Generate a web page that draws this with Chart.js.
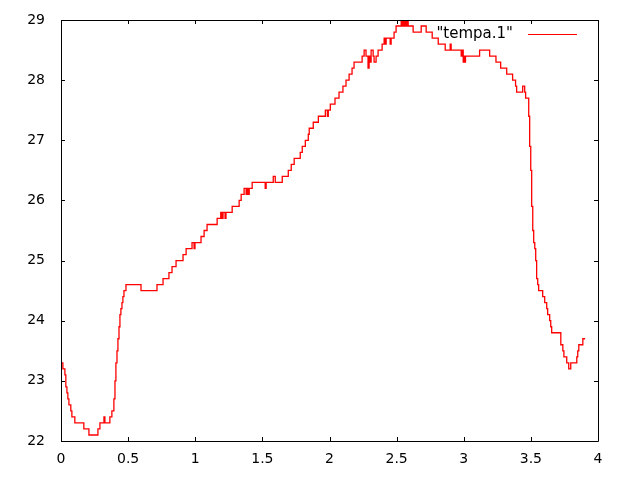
<!DOCTYPE html>
<html>
<head>
<meta charset="utf-8">
<script src="https://cdn.jsdelivr.net/npm/chart.js@4/dist/chart.umd.min.js"></script>
<style>
  html, body { margin: 0; padding: 0; background: #fff; }
  #wrap { width: 640px; height: 480px; }
</style>
</head>
<body>
<div id="wrap"><canvas id="chart" width="640" height="480"></canvas></div>
<script>
// time of each step change and the temperature reached there
const times = [
  0.000, 0.014, 0.029, 0.036, 0.044, 0.051, 0.059, 0.073, 0.081, 0.103,
  0.170, 0.208, 0.275, 0.290, 0.320, 0.327, 0.364, 0.379, 0.394, 0.402,
  0.409, 0.417, 0.424, 0.432, 0.439, 0.446, 0.454, 0.461, 0.469, 0.484,
  0.596, 0.715, 0.760, 0.804, 0.827, 0.857, 0.909, 0.932, 0.976, 0.991,
  0.998, 1.043, 1.066, 1.088, 1.163, 1.190, 1.194, 1.198, 1.202, 1.207,
  1.222, 1.229, 1.275, 1.327, 1.342, 1.364, 1.379, 1.386, 1.394, 1.402,
  1.424, 1.521, 1.528, 1.581, 1.596, 1.648, 1.693, 1.715, 1.737, 1.782,
  1.797, 1.820, 1.842, 1.849, 1.879, 1.917, 1.969, 1.984, 1.991, 2.006,
  2.041, 2.071, 2.100, 2.123, 2.146, 2.168, 2.183, 2.243, 2.258, 2.272,
  2.287, 2.295, 2.303, 2.310, 2.325, 2.332, 2.347, 2.362, 2.392, 2.407,
  2.414, 2.422, 2.452, 2.459, 2.481, 2.496, 2.534, 2.541, 2.549, 2.556,
  2.563, 2.571, 2.578, 2.586, 2.623, 2.683, 2.720, 2.765, 2.810, 2.862,
  2.899, 2.906, 2.981, 2.989, 2.996, 3.003, 3.006, 3.013, 3.118, 3.193,
  3.240, 3.275, 3.320, 3.364, 3.386, 3.394, 3.439, 3.454, 3.461, 3.484,
  3.491, 3.499, 3.506, 3.514, 3.521, 3.529, 3.536, 3.543, 3.551, 3.558,
  3.588, 3.603, 3.618, 3.625, 3.640, 3.648, 3.655, 3.723, 3.738, 3.746,
  3.767, 3.782, 3.797, 3.842, 3.849, 3.857, 3.887, 3.904
];
const temps = [
  23.3, 23.2, 23.1, 22.9, 22.8, 22.7, 22.6, 22.5, 22.4, 22.3,
  22.2, 22.1, 22.2, 22.3, 22.4, 22.3, 22.4, 22.5, 22.7, 23.0,
  23.3, 23.5, 23.7, 23.9, 24.1, 24.2, 24.3, 24.4, 24.5, 24.6,
  24.5, 24.6, 24.7, 24.8, 24.9, 25.0, 25.1, 25.2, 25.3, 25.2,
  25.3, 25.4, 25.5, 25.6, 25.7, 25.8, 25.7, 25.8, 25.7, 25.8,
  25.7, 25.8, 25.9, 26.0, 26.1, 26.2, 26.1, 26.2, 26.1, 26.2,
  26.3, 26.2, 26.3, 26.4, 26.3, 26.4, 26.5, 26.6, 26.7, 26.8,
  26.9, 27.0, 27.1, 27.2, 27.3, 27.4, 27.5, 27.4, 27.5, 27.6,
  27.7, 27.8, 27.9, 28.0, 28.1, 28.2, 28.3, 28.4, 28.5, 28.4,
  28.2, 28.4, 28.3, 28.5, 28.4, 28.3, 28.4, 28.5, 28.6, 28.7,
  28.6, 28.7, 28.6, 28.7, 28.8, 28.9, 29.0, 28.9, 29.0, 28.9,
  29.0, 28.9, 29.0, 28.9, 28.8, 28.9, 28.8, 28.7, 28.6, 28.5,
  28.6, 28.5, 28.4, 28.5, 28.3, 28.4, 28.3, 28.4, 28.5, 28.4,
  28.3, 28.2, 28.1, 28.0, 27.9, 27.8, 27.9, 27.8, 27.7, 27.4,
  26.9, 26.5, 25.9, 25.5, 25.3, 25.2, 25.0, 24.7, 24.6, 24.5,
  24.4, 24.3, 24.2, 24.1, 24.0, 23.9, 23.8, 23.6, 23.5, 23.4,
  23.3, 23.2, 23.3, 23.4, 23.5, 23.6, 23.7, 23.7
];
const seriesName = '"tempa.1"';
const xTicks = [0, 0.5, 1, 1.5, 2, 2.5, 3, 3.5, 4];
const yTicks = [22, 23, 24, 25, 26, 27, 28, 29];

const FONT = "DejaVu Sans";
const TICK = 4;

// gnuplot style frame: border, inward ticks on all sides, legend top right
const framePlugin = {
  id: "frame",
  afterDatasetsDraw(chart) {
    const { ctx, chartArea: a, scales } = chart;
    ctx.save();
    ctx.strokeStyle = "#000";
    ctx.lineWidth = 1;
    ctx.beginPath();
    ctx.rect(Math.round(a.left) + 0.5, Math.round(a.top) + 0.5,
             Math.round(a.right - a.left), Math.round(a.bottom - a.top));
    xTicks.forEach((v) => {
      const px = Math.round(scales.x.getPixelForValue(v)) + 0.5;
      ctx.moveTo(px, a.bottom); ctx.lineTo(px, a.bottom - TICK);
      ctx.moveTo(px, a.top); ctx.lineTo(px, a.top + TICK);
    });
    yTicks.forEach((v) => {
      const py = Math.round(scales.y.getPixelForValue(v)) + 0.5;
      ctx.moveTo(a.left, py); ctx.lineTo(a.left + TICK, py);
      ctx.moveTo(a.right, py); ctx.lineTo(a.right - TICK, py);
    });
    ctx.stroke();

    // key
    ctx.font = "15px '" + FONT + "'";
    ctx.fillStyle = "#000";
    ctx.textAlign = "right";
    ctx.textBaseline = "middle";
    ctx.fillText(chart.data.datasets[0].label, 513, 34);
    ctx.strokeStyle = "#ff0000";
    ctx.beginPath();
    ctx.moveTo(528, 34.5); ctx.lineTo(577, 34.5);
    ctx.stroke();
    ctx.restore();
  },
};

new Chart(document.getElementById("chart"), {
  type: "line",
  data: {
    datasets: [
      {
        label: seriesName,
        data: times.map((t, i) => ({ x: t, y: temps[i] })),
        stepped: "before",
        borderColor: "#ff0000",
        borderWidth: 1.3,
        pointRadius: 0,
        fill: false,
      },
    ],
  },
  options: {
    animation: false,
    responsive: false,
    maintainAspectRatio: false,
    layout: { padding: { top: 20, right: 42, left: 0, bottom: 0 } },
    plugins: { legend: { display: false }, tooltip: { enabled: false } },
    scales: {
      x: {
        type: "linear",
        min: 0,
        max: 4,
        afterBuildTicks: (s) => { s.ticks = xTicks.map((v) => ({ value: v })); },
        afterFit: (s) => {
          s.height = 39;
          s.paddingLeft = 0;
          s.paddingRight = 0;
        },
        grid: { display: false, drawTicks: false },
        border: { display: false },
        ticks: {
          color: "#000",
          padding: 10,
          maxRotation: 0,
          font: { family: FONT, size: 14 },
          callback: (v) => String(v),
        },
      },
      y: {
        type: "linear",
        min: 22,
        max: 29,
        afterBuildTicks: (s) => { s.ticks = yTicks.map((v) => ({ value: v })); },
        afterFit: (s) => {
          s.width = 61;
          s.paddingTop = 0;
          s.paddingBottom = 0;
        },
        grid: { display: false, drawTicks: false },
        border: { display: false },
        ticks: {
          color: "#000",
          padding: 16,
          font: { family: FONT, size: 14 },
          callback: (v) => String(v),
        },
      },
    },
  },
  plugins: [framePlugin],
});
</script>
</body>
</html>
